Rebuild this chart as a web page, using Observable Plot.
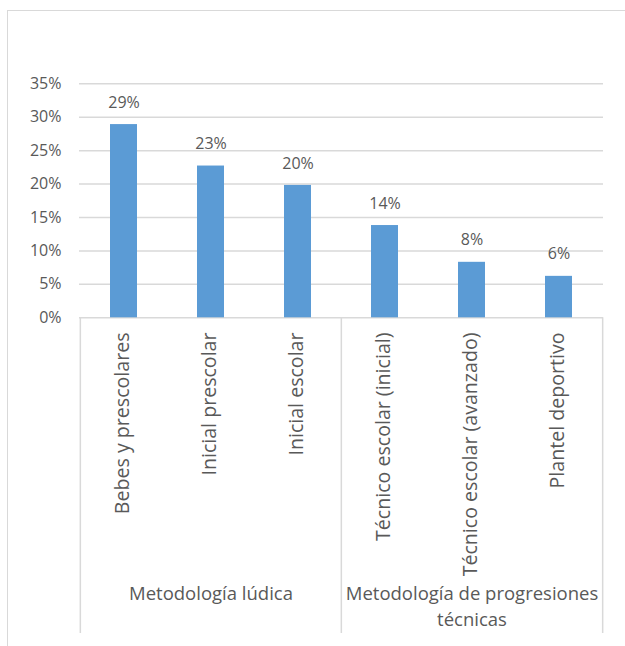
<!DOCTYPE html>
<html>
<head>
<meta charset="utf-8">
<script src="https://cdn.jsdelivr.net/npm/d3@7"></script>
<script src="https://cdn.jsdelivr.net/npm/@observablehq/plot@0.6"></script>
<style>
  html, body { margin: 0; padding: 0; background: #ffffff; overflow: hidden; }
  #wrap { position: relative; width: 625px; height: 646px; }
  #chart { position: absolute; left: 0; top: 0; z-index: 1; }
  #border { position: absolute; left: 7px; top: 10px; width: 700px; height: 700px; z-index: 2;
            border: 1.5px solid #d9d9d9; box-sizing: border-box; pointer-events: none; }
</style>
</head>
<body>
<div id="wrap"><div id="chart"></div><div id="border"></div></div>
<script>
// ---- data ----
const categories = [
  "Bebes y prescolares",
  "Inicial prescolar",
  "Inicial escolar",
  "Técnico escolar (inicial)",
  "Técnico escolar (avanzado)",
  "Plantel deportivo"
];
const values = [0.289, 0.227, 0.198, 0.138, 0.083, 0.062];
const groupOf = [
  "Metodología lúdica",
  "Metodología lúdica",
  "Metodología lúdica",
  "Metodología de progresiones técnicas",
  "Metodología de progresiones técnicas",
  "Metodología de progresiones técnicas"
];
const groupLabels = {
  "Metodología lúdica": "Metodología lúdica",
  "Metodología de progresiones técnicas": "Metodología de progresiones\ntécnicas"
};
const yTicks = [0, 0.05, 0.10, 0.15, 0.20, 0.25, 0.30, 0.35];

// ---- derived tables ----
const rows = categories.map((c, i) => ({category: c, value: values[i], group: groupOf[i]}));
const groupNames = Array.from(new Set(groupOf));
const groupRows = groupNames.map(g => {
  const cats = categories.filter((c, i) => groupOf[i] === g);
  return {group: g, label: groupLabels[g], mid: cats[Math.floor(cats.length / 2)],
          first: cats[0], last: cats[cats.length - 1]};
});

const W = 625, H = 646;
const mL = 79, mR = 22, mT = 83.3, mB = 328.7;
const step = (W - mL - mR) / categories.length;
const gridColor = "#d9d9d9";
const textColor = "#595959";
const catAreaDepth = 315.7;

const chart = Plot.plot({
  width: W,
  height: H,
  marginLeft: mL,
  marginRight: mR,
  marginTop: mT,
  marginBottom: mB,
  style: {fontFamily: "'Open Sans', sans-serif", background: "#ffffff", color: textColor},
  x: {type: "band", domain: categories, paddingInner: 0.69, paddingOuter: 0.345, axis: null},
  y: {domain: [0, 0.35], axis: null},
  marks: [
    Plot.gridY(yTicks, {stroke: gridColor, strokeOpacity: 1, strokeWidth: 1.5}),
    Plot.axisY(yTicks, {tickSize: 0, tickPadding: 18, tickFormat: d3.format(".0%"),
                        fontSize: 16, fill: textColor, label: null}),
    Plot.barY(rows, {x: "category", y: "value", fill: "#5b9bd5"}),
    Plot.text(rows, {x: "category", y: "value", text: d => d3.format(".0%")(d.value),
                     dy: -22, fontSize: 16, fill: textColor}),
    // category area boundaries
    Plot.ruleX(groupRows, {x: "first", y1: 0, y2: 0, dx: -step / 2, insetBottom: -catAreaDepth,
                           stroke: gridColor, strokeWidth: 1.5}),
    Plot.ruleX(groupRows.slice(-1), {x: "last", y1: 0, y2: 0, dx: step / 2, insetBottom: -catAreaDepth,
                                     stroke: gridColor, strokeWidth: 1.5}),
    // rotated category labels
    Plot.text(rows, {x: "category", text: "category", frameAnchor: "bottom", rotate: -90,
                     textAnchor: "end", dx: 5, dy: 14.7, fontSize: 19.6, fill: textColor}),
    // group labels
    Plot.text(groupRows, {x: "mid", text: "label", frameAnchor: "bottom", lineAnchor: "top",
                          dy: 263, fontSize: 18.5, lineHeight: 1.44, fill: textColor})
  ]
});
document.getElementById("chart").appendChild(chart);
</script>
</body>
</html>
